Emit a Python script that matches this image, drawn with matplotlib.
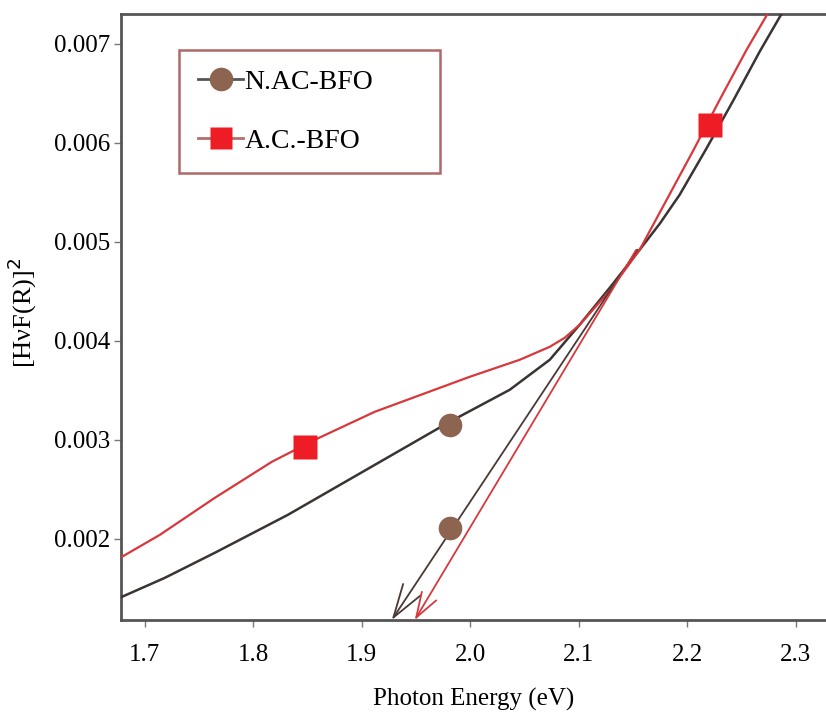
import matplotlib
matplotlib.use("Agg")
import matplotlib.pyplot as plt
from matplotlib.lines import Line2D

plt.rcParams['font.family'] = ['Liberation Serif', 'DejaVu Serif']

# N.AC-BFO curve
nac_x = [1.6788, 1.7184, 1.7645, 1.8318, 1.9120, 1.9811, 2.0364, 2.0733,
         2.1009, 2.1286, 2.1562, 2.1747, 2.1931, 2.2171, 2.2419, 2.2668, 2.2871]
nac_y = [0.001414, 0.001606, 0.001859, 0.002242, 0.002747, 0.003182, 0.003505,
         0.003808, 0.004162, 0.004535, 0.004919, 0.005182, 0.005475, 0.005929,
         0.006414, 0.006919, 0.007303]

# A.C.-BFO curve
ac_x = [1.6788, 1.7138, 1.7645, 1.8171, 1.8567, 1.9120, 1.9995, 2.0456, 2.0733,
        2.0871, 2.1009, 2.1286, 2.1562, 2.1811, 2.2060, 2.2300, 2.2548, 2.2742]
ac_y = [0.001818, 0.002040, 0.002414, 0.002778, 0.003000, 0.003283, 0.003636,
        0.003808, 0.003939, 0.004030, 0.004162, 0.004505, 0.004919, 0.005424,
        0.005929, 0.006434, 0.006939, 0.007303]

# marker symbols placed on the curves
nac_mark_x = [1.981, 1.981]
nac_mark_y = [0.00315, 0.00211]
ac_mark_x = [1.848, 2.221]
ac_mark_y = [0.00293, 0.00618]

# tangent lines (start, intercept on x axis)
nac_tan = [(2.1540, 0.004919), (1.9276, 0.00118)]
ac_tan = [(2.1530, 0.004919), (1.9488, 0.00118)]

xticks = [1.7, 1.8, 1.9, 2.0, 2.1, 2.2, 2.3]
yticks = [0.002, 0.003, 0.004, 0.005, 0.006, 0.007]

dark = '#3a3432'
red = '#d8383c'
brown = '#8c6450'
sq_red = '#ee1c24'

fig = plt.figure(figsize=(8.26, 7.13), dpi=100)
ax = fig.add_axes([0.1465, 0.1304, 0.8535, 0.85])

ax.plot(nac_x, nac_y, color=dark, lw=1.8, zorder=3)
ax.plot(ac_x, ac_y, color=red, lw=1.6, zorder=3)

ax.annotate('', xy=nac_tan[1], xytext=nac_tan[0],
            arrowprops=dict(arrowstyle='->,head_length=2.4,head_width=0.75',
                            color='#4a3a36', lw=1.3, shrinkA=0, shrinkB=0), zorder=4)
ax.annotate('', xy=ac_tan[1], xytext=ac_tan[0],
            arrowprops=dict(arrowstyle='->,head_length=1.8,head_width=0.6',
                            color=red, lw=1.3, shrinkA=0, shrinkB=0), zorder=4)

ax.plot(nac_mark_x, nac_mark_y, 'o', color=brown, ms=17, mec='none', zorder=5)
ax.plot(ac_mark_x, ac_mark_y, 's', color=sq_red, ms=17, mec='none', zorder=5)

ax.set_xlim(1.678, 2.328)
ax.set_ylim(0.00118, 0.0073)
ax.set_xticks(xticks)
ax.set_xticklabels(['%.1f' % v for v in xticks])
ax.set_yticks(yticks)
ax.set_yticklabels(['%.3f' % v for v in yticks])

for s in ['left', 'bottom', 'top']:
    ax.spines[s].set_color('#555555')
    ax.spines[s].set_linewidth(2)
ax.spines['right'].set_visible(False)
ax.tick_params(axis='both', direction='out', length=5, width=1, color='#777777',
               labelsize=18)
ax.tick_params(axis='y', pad=3)
ax.tick_params(axis='x', pad=12)

ax.set_xlabel('Photon Energy (eV)', fontsize=18, labelpad=16)
ax.set_ylabel('[HνF(R)]$^2$', fontsize=19)
ax.yaxis.set_label_coords(-0.116, 0.507)

handles = [
    Line2D([], [], color='#555555', lw=2, marker='o', ms=17, mfc=brown, mec='none'),
    Line2D([], [], color='#b07070', lw=2, marker='s', ms=16, mfc=sq_red, mec='none'),
]
leg = ax.legend(handles, ['N.AC-BFO', 'A.C.-BFO'], loc='upper left',
                bbox_to_anchor=(0.0823, 0.7393, 0.370, 0.2013), mode='expand',
                fontsize=20, frameon=True, fancybox=False, labelspacing=1.2,
                handlelength=1.6, borderpad=0.7, handletextpad=0.05,
                borderaxespad=0)
leg.get_frame().set_edgecolor('#b06868')
leg.get_frame().set_linewidth(1.8)
leg.get_frame().set_alpha(1)

fig.savefig('out.png', dpi=100)
